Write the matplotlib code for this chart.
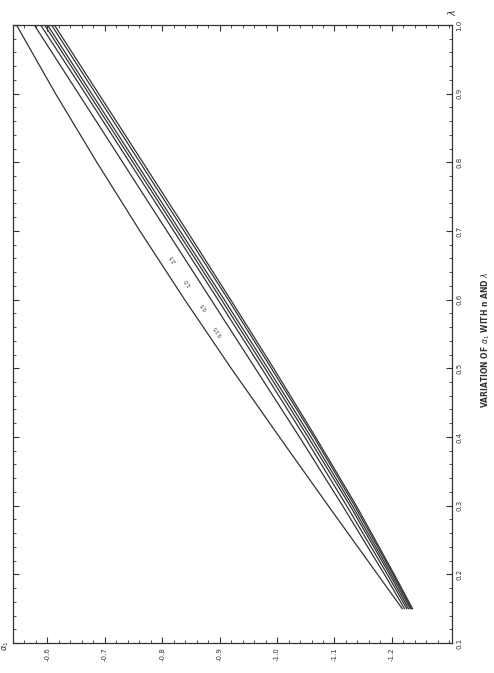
import numpy as np
import matplotlib
matplotlib.use("Agg")
import matplotlib.pyplot as plt
from matplotlib.ticker import MultipleLocator

lam = [0.15, 0.2, 0.3, 0.4, 0.5, 0.6, 0.7, 0.8, 0.9, 1.0]

# alpha_1 for each n (outer curve first, then the tight cluster)
alpha_a = [-1.218, -1.175, -1.089, -1.004, -0.920, -0.839, -0.761, -0.686, -0.614, -0.546]
alpha_b = [-1.222, -1.187, -1.114, -1.039, -0.962, -0.885, -0.808, -0.731, -0.654, -0.577]
alpha_c = [-1.226, -1.192, -1.121, -1.048, -0.973, -0.897, -0.820, -0.743, -0.666, -0.588]
alpha_d = [-1.229, -1.196, -1.127, -1.054, -0.979, -0.903, -0.826, -0.749, -0.672, -0.595]
alpha_e = [-1.232, -1.199, -1.131, -1.059, -0.984, -0.908, -0.831, -0.754, -0.677, -0.600]
alpha_f = [-1.234, -1.202, -1.135, -1.064, -0.990, -0.915, -0.838, -0.761, -0.684, -0.607]
alpha_g = [-1.236, -1.204, -1.138, -1.067, -0.994, -0.919, -0.843, -0.766, -0.689, -0.612]

curves = [alpha_a, alpha_b, alpha_c, alpha_d, alpha_e, alpha_f, alpha_g]

# curve labels (n), placed in the gap between the outer curve and the cluster
n_labels = ["0.15", "0.5", "1.0", "2.5"]
n_label_lam = [0.555, 0.59, 0.625, 0.66]
n_label_alpha = [-0.897, -0.872, -0.845, -0.818]

alpha_ticks = [-0.6, -0.7, -0.8, -0.9, -1.0, -1.1, -1.2]
lam_ticks = [0.1, 0.2, 0.3, 0.4, 0.5, 0.6, 0.7, 0.8, 0.9, 1.0]

fig = plt.figure(figsize=(4.94, 6.73), dpi=100)
fig.patch.set_facecolor("white")
ax = fig.add_axes([0.0263, 0.0446, 0.889, 0.9184])

# page is turned on its side: alpha_1 runs along the bottom, lambda up the right
for a in curves:
    ax.plot(a, lam, color="#333333", lw=0.9)

for t, l, a in zip(n_labels, n_label_lam, n_label_alpha):
    ax.text(a, l, t, rotation=124, fontsize=4, ha="center", va="center",
            color="#333333", rotation_mode="anchor")

ax.set_xlim(-0.54, -1.305)
ax.set_ylim(0.1, 1.0)

ax.set_xticks(alpha_ticks)
ax.set_xticklabels([f"{t:.1f}" for t in alpha_ticks], rotation=90, fontsize=5)
ax.xaxis.set_minor_locator(MultipleLocator(0.02))
ax.set_yticks(lam_ticks)
ax.set_yticklabels([f"{t:.1f}" for t in lam_ticks], rotation=90, fontsize=5, va="center")
ax.yaxis.set_minor_locator(MultipleLocator(0.02))

ax.yaxis.tick_right()
ax.tick_params(which="both", direction="in", top=True, bottom=True, left=True, right=True,
               colors="#333333", labelcolor="#333333")
ax.tick_params(which="major", length=4, width=0.8, pad=3)
ax.tick_params(which="minor", length=2, width=0.6)
for s in ax.spines.values():
    s.set_color("#333333")
    s.set_linewidth(0.9)

fig.text(0.012, 0.04, r"$\alpha_1$", rotation=90, fontsize=6, ha="center", va="center", color="#333333")
fig.text(0.915, 0.982, r"$\lambda$", rotation=90, fontsize=7, ha="center", va="center", color="#333333")
fig.text(0.984, 0.495, r"VARIATION OF $\alpha_1$ WITH n AND $\lambda$", rotation=90,
         fontsize=5.5, fontweight="bold", ha="center", va="center", color="#333333")

fig.savefig("out.png", dpi=100, facecolor="white")
